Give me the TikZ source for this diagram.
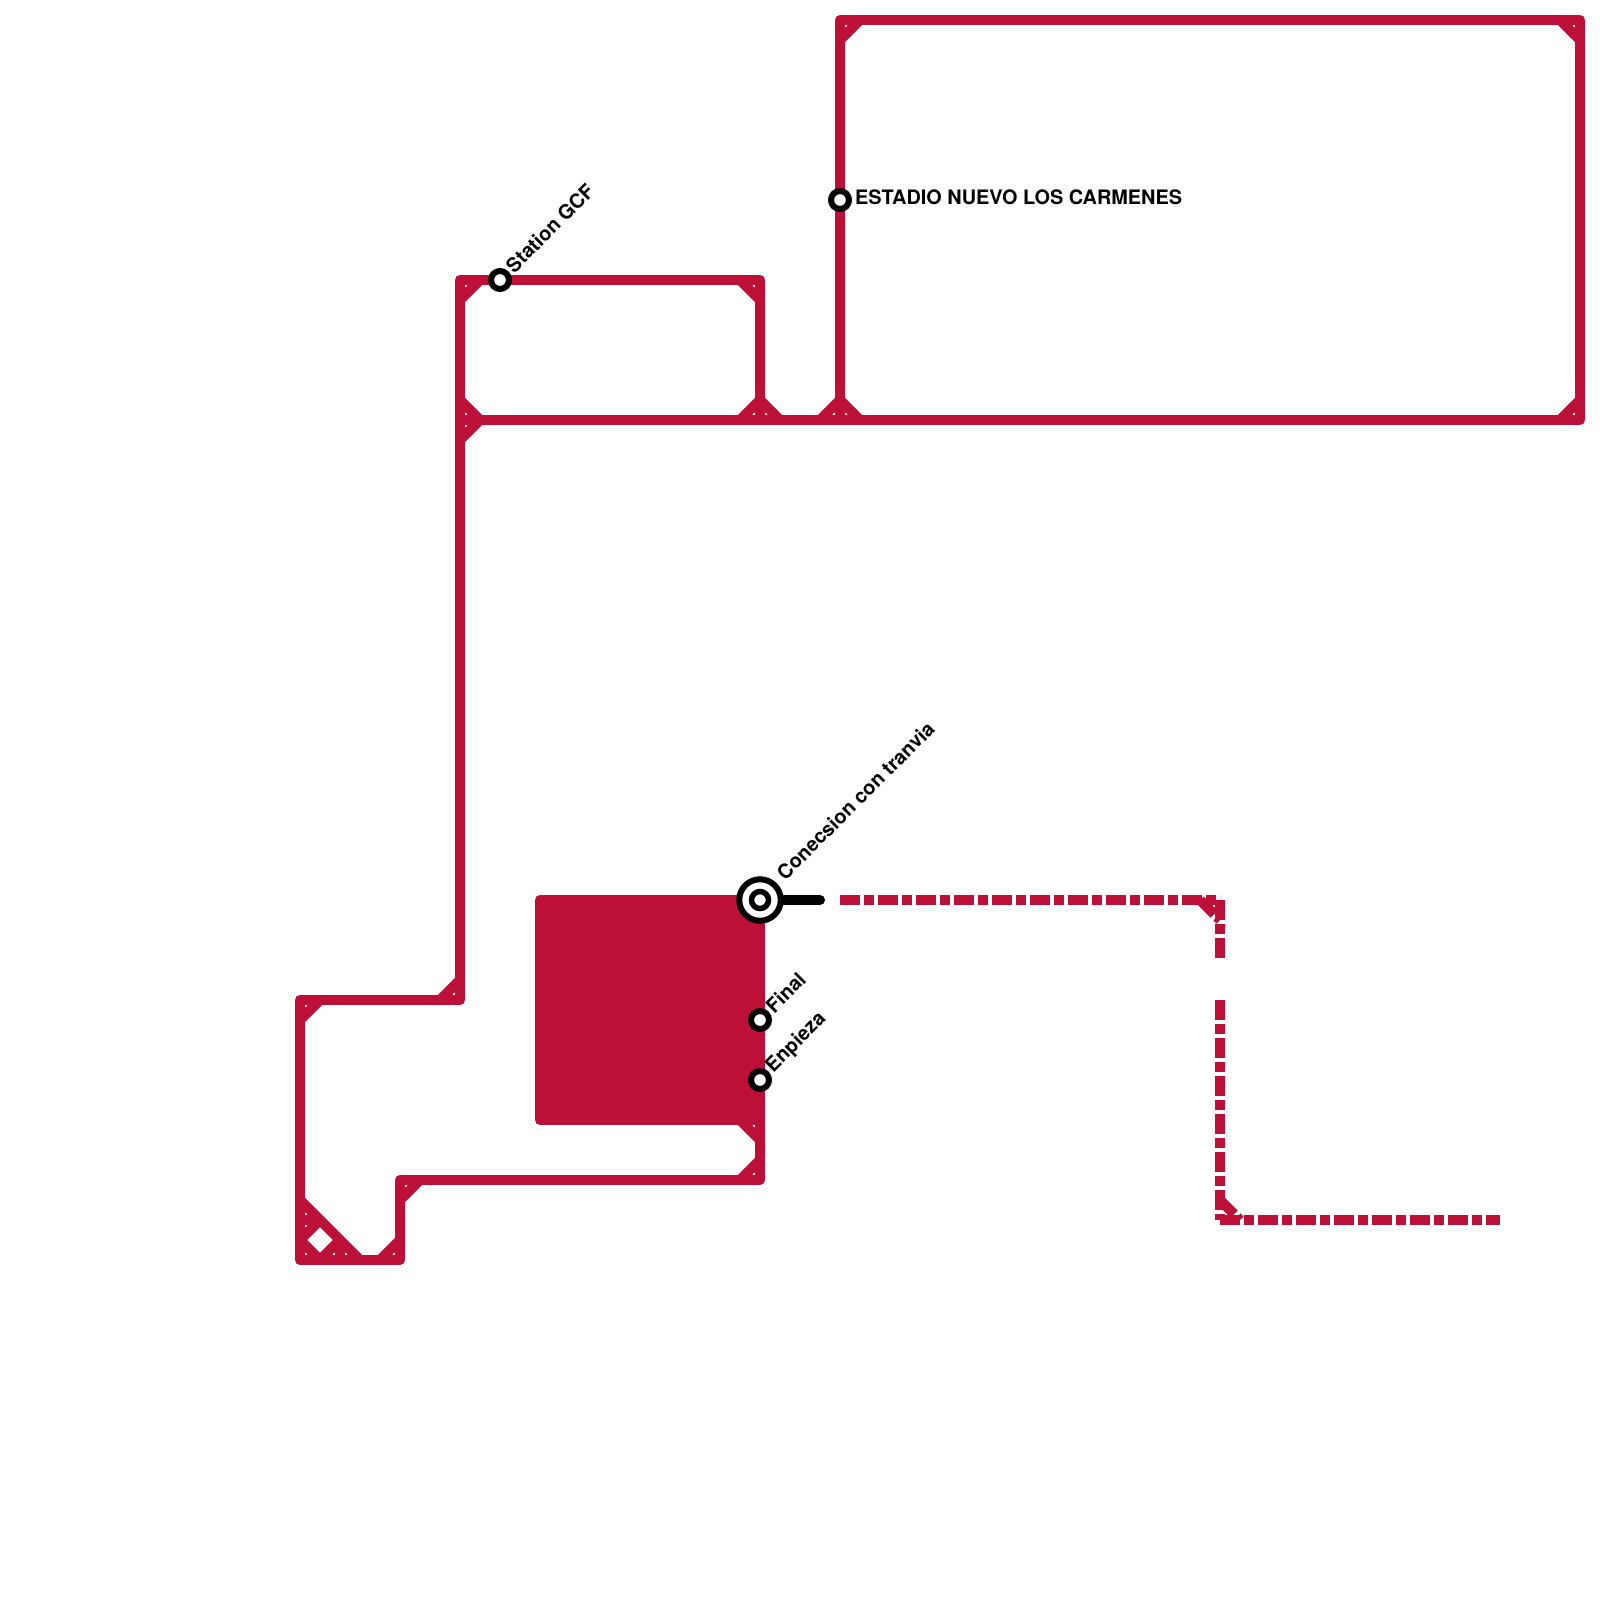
\documentclass[tikz,border=0pt]{standalone}
\usepackage{fontspec}
\setmainfont{TeX Gyre Heros}
\definecolor{linered}{HTML}{BD1038}
\tikzset{
  track/.style={draw=linered, line width=10pt, line join=round},
  dashtrack/.style={draw=linered, line width=10pt, dash pattern=on 20pt off 4pt on 10pt off 4pt},
  stop/.style={circle, draw=black, line width=6pt, fill=white, inner sep=0pt, minimum size=18pt},
  stoplabel/.style={font=\bfseries\fontsize{19.9}{24}\selectfont, inner sep=0pt, text=black},
}
\begin{document}
\begin{tikzpicture}[x=1pt, y=-1pt]
  \useasboundingbox (0,0) rectangle (1600,1600);
  % main loop
  \draw[track] (460,420) -- (1580,420) -- (1580,20) -- (840,20) -- (840,420);
  \draw[track] (760,420) -- (760,280) -- (460,280) -- (460,1000) -- (300,1000) -- (300,1260) -- (400,1260) -- (400,1180) -- (760,1180) -- (760,900);
  % block beside the hub
  \fill[linered, draw=linered, line width=10pt, line join=round] (540,900) rectangle (760,1120);
  % corner cuts
  \foreach \xa/\ya/\xb/\yb in {840/40/860/20, 1560/20/1580/40, 1560/420/1580/400,
      820/420/840/400, 840/400/860/420, 740/420/760/400, 760/400/780/420,
      460/300/480/280, 740/280/760/300, 460/400/480/420, 460/440/480/420,
      440/1000/460/980, 300/1020/320/1000, 380/1260/400/1240, 400/1200/420/1180,
      740/1180/760/1160, 740/1120/760/1140,
      300/1200/360/1260, 300/1240/320/1220, 300/1240/320/1260, 320/1260/340/1240,
      300/1220/320/1220, 340/1240/340/1260}
    \draw[track] (\xa,\ya) -- (\xb,\yb);
  % dashed part
  \draw[dashtrack] (840,900) -- (1220,900);
  \draw[dashtrack] (1220,900) -- (1220,960);
  \draw[dashtrack] (1220,1000) -- (1220,1220);
  \draw[dashtrack] (1220,1220) -- (1500,1220);
  \draw[dashtrack] (1200,900) -- (1220,920);
  \draw[dashtrack] (1220,1200) -- (1240,1220);
  % hub and connector
  \coordinate (hubend) at (820,900);
  \node[circle, draw=black, line width=6pt, fill=white, inner sep=0pt, minimum size=41.5pt] (hub) at (760,900) {};
  \draw[black, line width=10pt, line cap=round] (hub) -- (hubend);
  \node[circle, draw=black, line width=5.5pt, fill=white, inner sep=0pt, minimum size=17pt] (hubin) at (760,900) {};
  % stations
  \node[stop] (estadio) at (840,200) {};
  \node[stop] (gcf) at (500,280) {};
  \node[stop] (final) at (760,1020) {};
  \node[stop] (enpieza) at (760,1080) {};
  % labels
  \node[stoplabel, anchor=west] (estadiolabel) at (855,197.5) {ESTADIO NUEVO LOS CARMENES};
  \node[stoplabel, anchor=west, rotate=45] (gcflabel) at (509,269) {Station GCF};
  \node[stoplabel, anchor=west, rotate=45] (hublabel) at (780,876) {Conecsion con tranvia};
  \node[stoplabel, anchor=west, rotate=45] (finallabel) at (769,1009) {Final};
  \node[stoplabel, anchor=west, rotate=45] (enpiezalabel) at (769.5,1069.5) {Enpieza};
\end{tikzpicture}
\end{document}
